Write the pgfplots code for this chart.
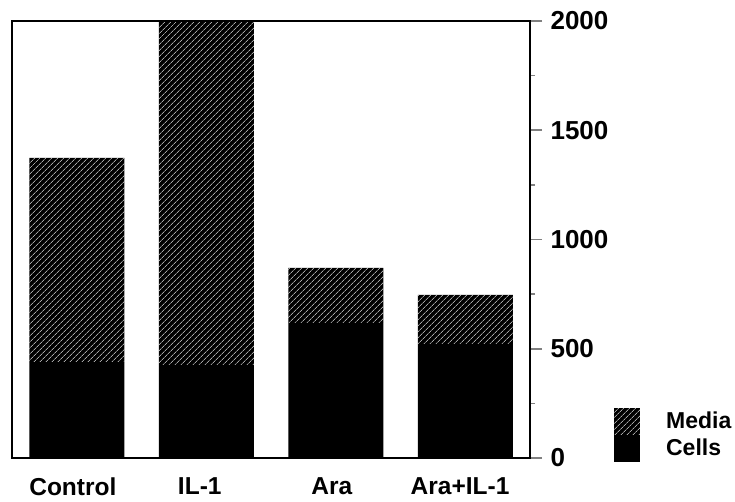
\documentclass[border=0pt]{standalone}
\usepackage{fontspec}
\setmainfont{Liberation Sans}
\usepackage{pgfplots}
\pgfplotsset{compat=1.18}
\usetikzlibrary{patterns.meta,calc}

\pgfplotstableread{
x cells media
0 439 934
1 426 1569
2 618 252
3 522 224
}\datatable

\begin{document}
\begin{tikzpicture}
\begin{axis}[
  scale only axis,
  width=518pt, height=437pt,
  xmin=-0.5, xmax=3.5,
  ymin=0, ymax=2000,
  ybar stacked,
  bar width=95pt,
  axis line style={line width=1.6pt},
  xtick={-0.03,0.95,1.97,2.96},
  xticklabels={Control, IL-1, Ara, Ara+IL-1},
  xtick style={draw=none},
  xticklabel style={yshift=-4pt, font=\fontsize{24.5}{27}\selectfont\bfseries},
  ytick={0,500,1000,1500,2000},
  minor ytick={250,750,1250,1750},
  ytick pos=right,
  yticklabel pos=right,
  yticklabel style={xshift=5pt, font=\fontsize{26}{28}\selectfont\bfseries},
  tick align=outside,
  major tick length=12pt,
  minor tick length=5pt,
  ytick style={line width=1.6pt},
  minor tick style={line width=1.6pt},
  /pgf/number format/assume math mode=true,
  /pgf/number format/1000 sep={},
  reverse legend,
  legend style={at={(1.162,0.115)}, anchor=north west, draw=none, fill=none,
    font=\fontsize{23}{26}\selectfont\bfseries, inner sep=0pt,
    row sep=0pt, /tikz/every odd column/.append style={column sep=0pt}},
  legend cell align=left,
  legend image code/.code={\fill[#1] (0pt,-14pt) rectangle (26pt,13pt);},
]
\addplot[fill=black, draw=none] table[x=x, y=cells] {\datatable};
\addlegendentry{\hspace{24pt}Cells}
\addplot[fill=black, draw=none,
  postaction={pattern={Lines[angle=45,distance=4pt,line width=0.6pt]}, pattern color=white}]
  table[x=x, y=media] {\datatable};
\addlegendentry{\hspace{24pt}Media}
\coordinate (O) at (rel axis cs:0,0);
\end{axis}
\pgfresetboundingbox
\path[use as bounding box] ($(O)+(-12pt,-44pt)$) rectangle ++(735pt,502pt);
\end{tikzpicture}
\end{document}
